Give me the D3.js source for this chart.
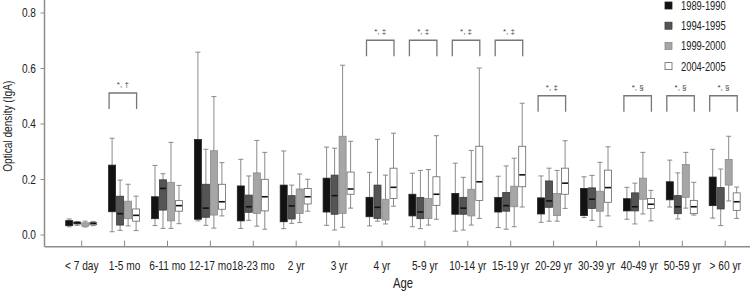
<!DOCTYPE html>
<html>
<head>
<meta charset="utf-8">
<script src="https://cdn.jsdelivr.net/npm/d3@7"></script>
<style>
  body { margin: 0; background: #fff; }
  svg { display: block; font-family: "Liberation Sans", Arial, sans-serif; }
</style>
</head>
<body>
<svg id="chart"></svg>
<script>
// age groups on the x axis
const ageGroups = ['< 7 day', '1-5 mo', '6-11 mo', '12-17 mo', '18-23 mo', '2 yr', '3 yr', '4 yr',
  '5-9 yr', '10-14 yr', '15-19 yr', '20-29 yr', '30-39 yr', '40-49 yr', '50-59 yr', '> 60 yr'];

const periods = ['1989-1990', '1994-1995', '1999-2000', '2004-2005'];

// [lower whisker, q1, median, q3, upper whisker] per age group (null = median not shown)
const s1989 = [
  [0.028, 0.032, null, 0.050, 0.056], [0.010, 0.082, null, 0.250, 0.347],
  [0.032, 0.057, null, 0.136, 0.249], [0.049, 0.055, null, 0.342, 0.657],
  [0.022, 0.049, null, 0.175, 0.271], [0.021, 0.046, null, 0.178, 0.301],
  [0.033, 0.081, null, 0.203, 0.315], [0.031, 0.064, null, 0.134, 0.224],
  [0.028, 0.067, null, 0.145, 0.221], [0.012, 0.073, null, 0.148, 0.257],
  [0.025, 0.081, null, 0.133, 0.210], [0.044, 0.074, null, 0.132, 0.211],
  [0.061, 0.068, null, 0.166, 0.208], [0.055, 0.085, null, 0.129, 0.170],
  [0.099, 0.125, null, 0.190, 0.268], [0.059, 0.104, null, 0.207, 0.307]
];
const s1994 = [
  [0.033, 0.038, 0.042, 0.045, 0.047], [0.015, 0.034, 0.075, 0.138, 0.196],
  [0.022, 0.088, 0.166, 0.197, 0.219], [0.033, 0.062, 0.095, 0.181, 0.307],
  [0.051, 0.080, 0.100, 0.142, 0.211], [0.040, 0.056, 0.103, 0.140, 0.178],
  [0.016, 0.073, 0.140, 0.214, 0.311], [0.048, 0.058, 0.098, 0.178, 0.343],
  [0.021, 0.057, 0.081, 0.133, 0.231], [0.016, 0.073, 0.095, 0.134, 0.206],
  [0.019, 0.084, 0.104, 0.151, 0.247], [0.048, 0.098, 0.121, 0.193, 0.239],
  [0.051, 0.094, 0.127, 0.168, 0.213], [0.038, 0.085, 0.100, 0.150, 0.185],
  [0.056, 0.075, 0.100, 0.140, 0.222], [0.032, 0.092, null, 0.169, 0.236]
];
const s1999 = [
  [0.027, 0.030, null, 0.042, 0.048], [0.031, 0.057, null, 0.120, 0.181],
  [0.022, 0.049, null, 0.188, 0.332], [0.023, 0.070, null, 0.302, 0.497],
  [0.030, 0.076, null, 0.222, 0.339], [0.043, 0.076, null, 0.164, 0.218],
  [0.026, 0.076, null, 0.354, 0.610], [0.038, 0.052, null, 0.127, 0.214],
  [0.034, 0.058, null, 0.130, 0.234], [0.034, 0.067, null, 0.163, 0.303],
  [0.028, 0.100, null, 0.174, 0.275], [0.048, 0.068, null, 0.148, 0.231],
  [0.028, 0.084, null, 0.156, 0.260], [0.074, 0.127, null, 0.203, 0.296],
  [0.095, 0.134, null, 0.252, 0.296], [0.121, 0.178, null, 0.270, 0.354]
];
const s2004 = [
  [0.032, 0.035, 0.040, 0.043, 0.047], [0.014, 0.048, 0.069, 0.092, 0.138],
  [0.039, 0.084, 0.104, 0.122, 0.177], [0.067, 0.091, 0.118, 0.181, 0.259],
  [0.019, 0.085, 0.136, 0.199, 0.296], [0.084, 0.110, 0.136, 0.166, 0.199],
  [0.095, 0.145, 0.164, 0.225, 0.336], [0.102, 0.130, 0.170, 0.239, 0.365],
  [0.055, 0.105, 0.145, 0.208, 0.356], [0.058, 0.123, 0.190, 0.318, 0.600],
  [0.099, 0.172, 0.215, 0.318, 0.473], [0.094, 0.145, 0.185, 0.239, 0.338],
  [0.067, 0.116, 0.169, 0.232, 0.316], [0.049, 0.094, 0.109, 0.130, 0.159],
  [0.070, 0.075, 0.100, 0.123, 0.188], [0.058, 0.087, 0.118, 0.150, 0.171]
];

// significance brackets: age group, label, height
const bracketGroups = ['1-5 mo', '4 yr', '5-9 yr', '10-14 yr', '15-19 yr', '20-29 yr', '40-49 yr', '50-59 yr', '> 60 yr'];
const bracketLabels = ['*, \u2020', '*, \u2021', '*, \u2021', '*, \u2021', '*, \u2021', '*, \u2021', '*, \u00a7', '*, \u00a7', '*, \u00a7'];
const bracketLevels = [0.51, 0.70, 0.70, 0.70, 0.70, 0.50, 0.50, 0.50, 0.50];

const yTicks = [0, 0.2, 0.4, 0.6, 0.8];

const width = 750, height = 291;
const fills = ['#121212', '#555555', '#a6a6a6', '#ffffff'];
const strokes = ['#222', '#3a3a3a', '#8a8a8a', '#666'];
const series = [s1989, s1994, s1999, s2004];
const narrow = 0.78; // horizontal squeeze, the original uses a condensed face

const svg = d3.select('#chart')
  .attr('width', width)
  .attr('height', height)
  .attr('viewBox', [0, 0, width, height]);

// scales
const x = d3.scaleBand(ageGroups, [60.25, 746.65]);
const xs = d3.scalePoint(periods, [-12.5, 11.5]);
const y = d3.scaleLinear([0, 0.8], [234.5, 12.5]);
const boxW = 7;
const axisColor = '#8c8c8c';
const xAxisY = 246.7;

// Y axis
svg.append('g')
  .attr('transform', 'translate(44.5,0)')
  .call(d3.axisLeft(y).tickValues(yTicks).tickFormat(d3.format('.1f')).tickSize(4))
  .call(g => g.select('.domain').remove())
  .call(g => g.selectAll('.tick line').attr('stroke', axisColor))
  .call(g => g.selectAll('.tick text')
    .attr('x', 0)
    .attr('transform', `translate(-8.5,0) scale(${narrow},1)`)
    .attr('font-size', 13).attr('fill', '#222'));

svg.append('line')
  .attr('x1', 44.5).attr('x2', 44.5)
  .attr('y1', y(y.invert(0))).attr('y2', xAxisY)
  .attr('stroke', axisColor).attr('stroke-width', 1.5);

// X axis (ticks pointing up)
svg.append('g')
  .attr('transform', `translate(0,${xAxisY})`)
  .call(d3.axisBottom(x).tickSize(-6).tickPadding(14))
  .call(g => g.select('.domain').remove())
  .call(g => g.selectAll('.tick line').attr('stroke', axisColor))
  .call(g => g.selectAll('.tick text')
    .attr('transform', `scale(${narrow},1)`)
    .attr('font-size', 13).attr('fill', '#222'));

svg.append('line')
  .attr('x1', 44.5).attr('x2', width)
  .attr('y1', xAxisY).attr('y2', xAxisY)
  .attr('stroke', axisColor).attr('stroke-width', 1.5);

// axis titles
svg.append('text')
  .attr('transform', `translate(403,288) scale(${narrow},1)`)
  .attr('text-anchor', 'middle')
  .attr('font-size', 14.5)
  .attr('fill', '#222')
  .text('Age');

svg.append('text')
  .attr('transform', `translate(12,${y(0.39)}) rotate(-90) scale(${narrow},1)`)
  .attr('text-anchor', 'middle')
  .attr('font-size', 13)
  .attr('fill', '#222')
  .text('Optical density (IgA)');

// boxes
const cx = (g, s) => x(g) + x.bandwidth() / 2 + xs(s);

series.forEach((data, si) => {
  const p = periods[si];
  const gr = svg.append('g').attr('class', 'series-' + si);
  const items = data.map((d, i) => ({ g: ageGroups[i], d }));

  // whiskers
  gr.selectAll('line.whisker')
    .data(items)
    .join('line')
    .attr('class', 'whisker')
    .attr('x1', e => cx(e.g, p)).attr('x2', e => cx(e.g, p))
    .attr('y1', e => y(e.d[0])).attr('y2', e => y(e.d[4]))
    .attr('stroke', '#8a8a8a').attr('stroke-width', 1);

  // whisker caps
  [0, 4].forEach(k => {
    gr.selectAll('line.cap' + k)
      .data(items)
      .join('line')
      .attr('class', 'cap' + k)
      .attr('x1', e => cx(e.g, p) - 2.5).attr('x2', e => cx(e.g, p) + 2.5)
      .attr('y1', e => y(e.d[k])).attr('y2', e => y(e.d[k]))
      .attr('stroke', '#8a8a8a').attr('stroke-width', 1);
  });

  gr.selectAll('rect')
    .data(items)
    .join('rect')
    .attr('x', e => cx(e.g, p) - boxW / 2)
    .attr('width', boxW)
    .attr('y', e => y(e.d[3]))
    .attr('height', e => y(e.d[1]) - y(e.d[3]))
    .attr('fill', fills[si])
    .attr('stroke', strokes[si])
    .attr('stroke-width', 0.8);

  gr.selectAll('line.median')
    .data(items.filter(e => e.d[2] != null))
    .join('line')
    .attr('class', 'median')
    .attr('x1', e => cx(e.g, p) - boxW / 2 + 0.5).attr('x2', e => cx(e.g, p) + boxW / 2 - 0.5)
    .attr('y1', e => y(e.d[2])).attr('y2', e => y(e.d[2]))
    .attr('stroke', '#111').attr('stroke-width', 1.6);
});

// brackets
const br = svg.append('g').attr('fill', 'none').attr('stroke', '#777').attr('stroke-width', 1.3);
bracketGroups.forEach((g, i) => {
  const x0 = cx(g, periods[0]) - 3;
  const x1 = cx(g, periods[3]) + 0.5;
  const yt = y(bracketLevels[i]);
  const yb = y(bracketLevels[i] - 0.058);
  br.append('path').attr('d', `M${x0},${yb}V${yt}H${x1}V${yb}`);
  svg.append('text')
    .attr('transform', `translate(${(x0 + x1) / 2},${yt - 6})`)
    .attr('text-anchor', 'middle')
    .attr('font-size', 8)
    .attr('fill', '#444')
    .text(bracketLabels[i]);
});

// legend
const legend = svg.append('g').attr('transform', 'translate(665,0)');
legend.selectAll('g')
  .data(periods)
  .join('g')
  .attr('transform', (d, i) => `translate(0,${5.5 + i * 20.2})`)
  .call(g => g.append('rect')
    .attr('x', 0).attr('y', -3.5).attr('width', 7).attr('height', 7)
    .attr('fill', (d, i) => fills[i])
    .attr('stroke', (d, i) => strokes[i]).attr('stroke-width', 0.8))
  .call(g => g.append('text')
    .attr('transform', `translate(16,4.5) scale(${narrow},1)`)
    .attr('font-size', 12)
    .attr('fill', '#222')
    .text(d => d));
</script>
</body>
</html>
